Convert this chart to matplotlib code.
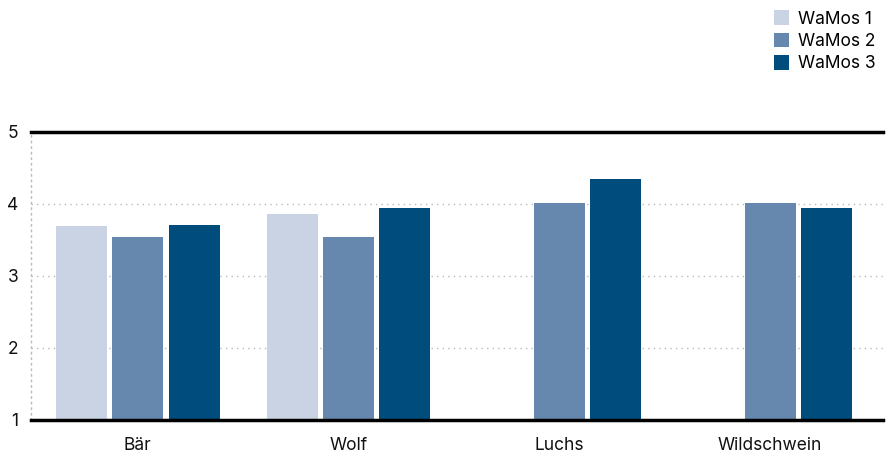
import numpy as np
import matplotlib
matplotlib.use('Agg')
import matplotlib.pyplot as plt

# Daten
tiere = ['Bär', 'Wolf', 'Luchs', 'Wildschwein']
serien = ['WaMos 1', 'WaMos 2', 'WaMos 3']
wamos1 = [3.69, 3.86, np.nan, np.nan]
wamos2 = [3.54, 3.54, 4.02, 4.02]
wamos3 = [3.71, 3.94, 4.35, 3.94]
farben = ['#c9d3e3', '#6688ae', '#004c7c']

plt.rcParams['font.family'] = ['Inter', 'DejaVu Sans']

fig = plt.figure(figsize=(8.88, 4.54), dpi=100)
ax = fig.add_axes([31 / 888, 1 - 420 / 454, 852 / 888, 288 / 454])

x = np.arange(len(tiere))
breite = 0.242
abstand = 0.2666
for i, (werte, farbe, name) in enumerate(zip([wamos1, wamos2, wamos3], farben, serien)):
    werte = np.array(werte)
    ax.bar(x + (i - 1) * abstand, werte - 1, bottom=1, width=breite,
           color=farbe, label=name, zorder=2)

ax.set_xlim(-0.507, 3.535)
ax.set_ylim(1, 5)
ax.set_yticks([1, 2, 3, 4, 5])
ax.set_xticks(x)
ax.set_xticklabels(tiere)
ax.tick_params(axis='both', length=0, labelsize=12.5, colors='#111111')
ax.tick_params(axis='x', pad=12)
ax.tick_params(axis='y', pad=9)

# Gitter
ax.yaxis.grid(True, linestyle=(0, (1, 3)), color='#bbbbbb', linewidth=1, zorder=0)
ax.spines['right'].set_visible(False)
ax.spines['left'].set_linestyle((0, (1, 3)))
ax.spines['left'].set_color('#bbbbbb')
ax.spines['left'].set_linewidth(1)
ax.spines['top'].set_linewidth(2.5)
ax.spines['bottom'].set_linewidth(2.5)
ax.spines['top'].set_zorder(3)
ax.spines['bottom'].set_zorder(3)

fig.legend(loc='upper right', bbox_to_anchor=(886 / 888, 1.0), frameon=False,
           fontsize=12.5, handlelength=0.9, handleheight=0.9, handletextpad=0.5,
           labelspacing=0.3, borderaxespad=0.2)

plt.savefig('out.png', dpi=100)
plt.close()
